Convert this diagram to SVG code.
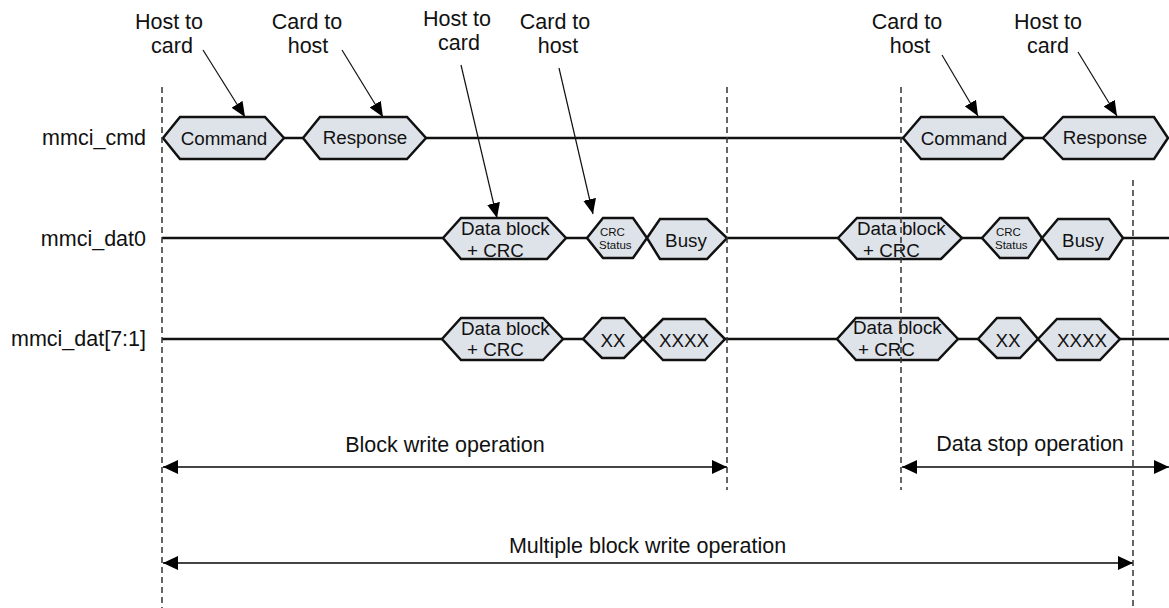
<svg xmlns="http://www.w3.org/2000/svg" width="1169" height="608" viewBox="0 0 1169 608">
<defs>
<style>
text{font-family:"Liberation Sans",Arial,sans-serif;fill:#111}
.lbl{font-size:21.5px}
.sig{font-size:21.5px;text-anchor:end}
.box{font-size:18.8px}
.mid{text-anchor:middle}
.small{font-size:11.5px}
.hex{fill:#dee3ea;stroke:#111;stroke-width:2.5;stroke-linejoin:miter}
.wire{stroke:#111;stroke-width:2.5;fill:none}
.ptr{stroke:#111;stroke-width:1.2;fill:none;marker-end:url(#ah)}
.dim{stroke:#444;stroke-width:2;fill:none;marker-start:url(#dh);marker-end:url(#dh)}
.guide{stroke:#333;stroke-width:1.5;stroke-dasharray:6,4;fill:none}
</style>
<marker id="ah" markerUnits="userSpaceOnUse" markerWidth="16" markerHeight="13" refX="15" refY="6.5" orient="auto"><path d="M0,0 L15,6.5 L0,13 z" fill="#000"/></marker>
<marker id="dh" markerUnits="userSpaceOnUse" markerWidth="16" markerHeight="14" refX="15" refY="7" orient="auto-start-reverse"><path d="M0,0 L15,7 L0,14 z" fill="#000"/></marker>
</defs>
<rect width="1169" height="608" fill="#fff"/>

<g id="signal-labels">
<text class="sig" x="146" y="145">mmci_cmd</text>
<text class="sig" x="146" y="245.5">mmci_dat0</text>
<text class="sig" x="146" y="346">mmci_dat[7:1]</text>
</g>

<g id="connectors">
<path class="wire" d="M284,138H303M426,138H903M1024,138H1043"/>
<path class="wire" d="M162,238H443M566,238H587M727,238H838M962,238H982M1123,238H1169"/>
<path class="wire" d="M162,339H442M563,339H583M725,339H837M958,339H978M1120,339H1169"/>
<line class="ptr" x1="203" y1="50" x2="245" y2="117"/>
<line class="ptr" x1="342" y1="50" x2="383" y2="117"/>
<line class="ptr" x1="461" y1="65" x2="497" y2="218"/>
<line class="ptr" x1="559" y1="68" x2="593" y2="214"/>
<line class="ptr" x1="942" y1="55" x2="978" y2="116"/>
<line class="ptr" x1="1078" y1="52" x2="1117" y2="116"/>
<line class="dim" x1="163" y1="467" x2="727" y2="467"/>
<line class="dim" x1="902" y1="467" x2="1169" y2="467"/>
<line class="dim" x1="163" y1="563" x2="1133" y2="563"/>
</g>

<g id="cmd1"><polygon class="hex" points="163,138 180,117 265,117 284,138 265,159 180,159"/><text class="box mid" x="224" y="145">Command</text></g>
<g id="resp1"><polygon class="hex" points="303,138 320,117 407,117 426,138 407,159 320,159"/><text class="box mid" x="365" y="144">Response</text></g>
<g id="cmd2"><polygon class="hex" points="903,138 921,117 1003,117 1024,138 1003,159 921,159"/><text class="box mid" x="964" y="145">Command</text></g>
<g id="resp2"><polygon class="hex" points="1043,138 1063,117 1154,117 1168,138 1154,159 1063,159"/><text class="box mid" x="1105" y="144">Response</text></g>

<g id="dat0-block1"><polygon class="hex" points="443,238 461,218 547,218 566,238 547,259 461,259"/><text class="box" x="461" y="235">Data block</text><text class="box" x="467" y="257">+ CRC</text></g>
<g id="dat0-crc1"><polygon class="hex" points="587,238 603,218 633,218 647,238 633,258 603,258"/><text class="small" x="600" y="235.5">CRC</text><text class="small" x="599" y="249">Status</text></g>
<g id="dat0-busy1"><polygon class="hex" points="647,238 660,219 707,219 727,238 707,259 660,259"/><text class="box mid" x="686" y="247">Busy</text></g>
<g id="dat0-block2"><polygon class="hex" points="838,238 857,218 941,218 962,238 941,259 857,259"/><text class="box" x="857" y="235">Data block</text><text class="box" x="863" y="257">+ CRC</text></g>
<g id="dat0-crc2"><polygon class="hex" points="982,238 1000,218 1028,218 1042,238 1028,258 1000,258"/><text class="small" x="996" y="235.5">CRC</text><text class="small" x="995" y="249">Status</text></g>
<g id="dat0-busy2"><polygon class="hex" points="1042,238 1058,219 1109,219 1123,238 1109,259 1058,259"/><text class="box mid" x="1083" y="247">Busy</text></g>

<g id="dat71-block1"><polygon class="hex" points="442,339 461,318 543,318 563,339 543,360 461,360"/><text class="box" x="461" y="335">Data block</text><text class="box" x="467" y="356">+ CRC</text></g>
<g id="dat71-xx1"><polygon class="hex" points="583,339 602,318 624,318 643,339 624,358 602,358"/><text class="box mid" x="613" y="347">XX</text></g>
<g id="dat71-xxxx1"><polygon class="hex" points="643,339 663,319 705,319 725,339 705,360 663,360"/><text class="box mid" x="684" y="347">XXXX</text></g>
<g id="dat71-block2"><polygon class="hex" points="837,339 856,318 938,318 958,339 938,360 856,360"/><text class="box" x="853" y="334">Data block</text><text class="box" x="858" y="356">+ CRC</text></g>
<g id="dat71-xx2"><polygon class="hex" points="978,339 997,318 1020,318 1038,339 1020,358 997,358"/><text class="box mid" x="1008" y="347">XX</text></g>
<g id="dat71-xxxx2"><polygon class="hex" points="1038,339 1057,319 1100,319 1120,339 1100,360 1057,360"/><text class="box mid" x="1082" y="347">XXXX</text></g>

<g id="guides">
<line class="guide" x1="162" y1="87" x2="162" y2="608"/>
<line class="guide" x1="727" y1="87" x2="727" y2="490"/>
<line class="guide" x1="901" y1="87" x2="901" y2="490"/>
<line class="guide" x1="1133" y1="180" x2="1133" y2="608"/>
</g>

<g id="label-h2c-1"><text class="lbl mid" x="169" y="29">Host to</text><text class="lbl mid" x="172" y="53">card</text></g>
<g id="label-c2h-1"><text class="lbl mid" x="307" y="29">Card to</text><text class="lbl mid" x="308" y="53">host</text></g>
<g id="label-h2c-2"><text class="lbl mid" x="457" y="26">Host to</text><text class="lbl mid" x="459" y="50">card</text></g>
<g id="label-c2h-2"><text class="lbl mid" x="555" y="29">Card to</text><text class="lbl mid" x="558" y="53">host</text></g>
<g id="label-c2h-3"><text class="lbl mid" x="907" y="29">Card to</text><text class="lbl mid" x="910" y="53">host</text></g>
<g id="label-h2c-3"><text class="lbl mid" x="1048" y="29">Host to</text><text class="lbl mid" x="1048" y="53">card</text></g>

<g id="op-labels">
<text class="lbl mid" x="445" y="452">Block write operation</text>
<text class="lbl mid" x="1030" y="451">Data stop operation</text>
<text class="lbl mid" x="647.5" y="553">Multiple block write operation</text>
</g>
</svg>
